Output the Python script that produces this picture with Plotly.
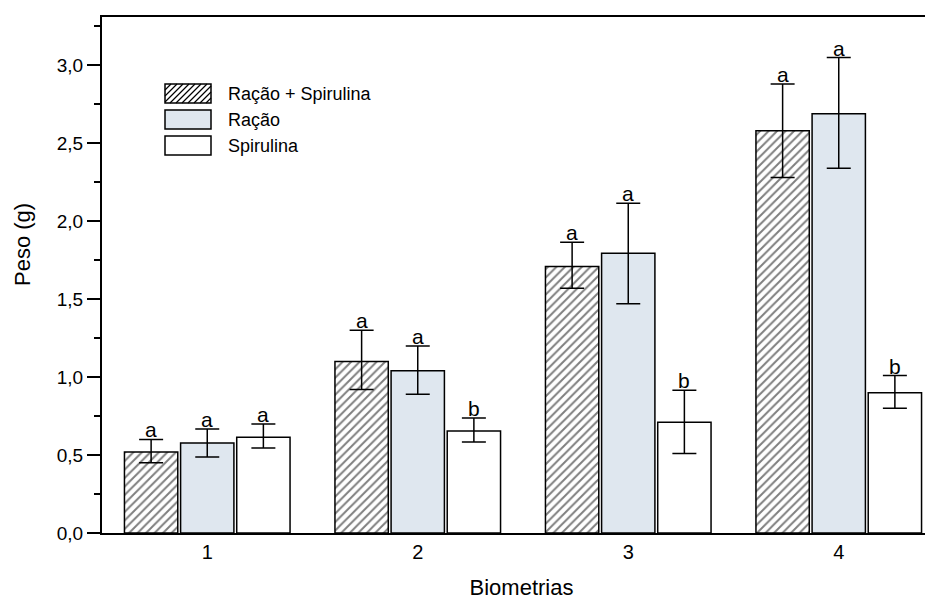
import plotly.graph_objects as go

# ---- data ----
categories = [1, 2, 3, 4]
tick_labels = ["1", "2", "3", "4"]
series_names = ["Ração + Spirulina", "Ração", "Spirulina"]

racao_spirulina = [0.52, 1.10, 1.71, 2.58]
racao_spirulina_up = [0.60, 1.30, 1.865, 2.88]
racao_spirulina_low = [0.45, 0.92, 1.57, 2.28]

racao = [0.577, 1.04, 1.795, 2.69]
racao_up = [0.667, 1.20, 2.115, 3.05]
racao_low = [0.487, 0.89, 1.47, 2.34]

spirulina = [0.615, 0.655, 0.71, 0.90]
spirulina_up = [0.70, 0.737, 0.915, 1.01]
spirulina_low = [0.545, 0.583, 0.51, 0.80]

letters_rs = ["a", "a", "a", "a"]
letters_r = ["a", "a", "a", "a"]
letters_s = ["a", "b", "b", "b"]

y_ticks = [0.0, 0.5, 1.0, 1.5, 2.0, 2.5, 3.0]
group_separators = [1.5, 2.5, 3.5]

# ---- layout geometry (page has an 8px body margin) ----
OFF = 8
W, H = 933, 602
ML, MT = 102 - OFF, 17 - OFF
MB = (H + OFF) - 533
MR = 0
PW, PH = W - ML - MR, H - MT - MB
XR = [0.5, 0.5 + PW / 210.5]
YR = [0.0, 3.31]
BARGAP, GROUPGAP = 0.2, 0.05
slot = (1 - BARGAP) / 3

FONT = "Liberation Sans, Arial, sans-serif"

means = [racao_spirulina, racao, spirulina]
ups = [racao_spirulina_up, racao_up, spirulina_up]
lows = [racao_spirulina_low, racao_low, spirulina_low]
letters = [letters_rs, letters_r, letters_s]

fills = ["white", "#dfe7ef", "white"]
patterns = [dict(shape="/", fgcolor="#000000", bgcolor="white", size=6, solidity=0.33),
            dict(shape=""), dict(shape="")]

fig = go.Figure()
for i in range(3):
    fig.add_trace(go.Bar(
        x=categories, y=means[i], name=series_names[i],
        marker=dict(color=fills[i], line=dict(color="black", width=1.5),
                    pattern=patterns[i]),
        error_y=dict(type="data", symmetric=False,
                     array=[u - m for u, m in zip(ups[i], means[i])],
                     arrayminus=[m - l for m, l in zip(means[i], lows[i])],
                     color="black", thickness=1.5, width=12),
        showlegend=False,
    ))

annotations = []
for i in range(3):
    off = (i - 1) * slot
    for c, u, t in zip(categories, ups[i], letters[i]):
        annotations.append(dict(x=c + off, y=u, text=t, showarrow=False,
                                xanchor="center", yanchor="bottom", yshift=-4,
                                font=dict(family=FONT, size=21, color="black")))


# ---- custom legend (paper coordinates from reference pixels) ----
def px(xp):
    return (xp - OFF - ML) / PW


def py(yp):
    return (MT + PH - (yp - OFF)) / PH


shapes = []
sw_l, sw_r, sw_h = 165, 211, 19
row_tops = [84, 110, 136]
for i, top in enumerate(row_tops):
    bot = top + sw_h
    shapes.append(dict(type="rect", xref="paper", yref="paper",
                       x0=px(sw_l), x1=px(sw_r), y0=py(bot), y1=py(top),
                       fillcolor=fills[i], line=dict(color="black", width=1.5),
                       layer="above"))
    if i == 0:
        segs = []
        step = 6
        k = sw_l - sw_h
        while k < sw_r:
            x0, y0 = k, bot
            x1, y1 = k + sw_h, top
            if x0 < sw_l:
                y0 = bot - (sw_l - x0)
                x0 = sw_l
            if x1 > sw_r:
                y1 = top + (x1 - sw_r)
                x1 = sw_r
            if x1 > x0:
                segs.append(f"M{px(x0)},{py(y0)} L{px(x1)},{py(y1)}")
            k += step
        shapes.append(dict(type="path", xref="paper", yref="paper",
                           path=" ".join(segs),
                           line=dict(color="#000000", width=1.2), layer="above"))
    annotations.append(dict(xref="paper", yref="paper", x=px(226), y=py(top + sw_h / 2),
                            text=series_names[i], showarrow=False,
                            xanchor="left", yanchor="middle",
                            font=dict(family=FONT, size=18, color="black")))

# y-axis title placed at its reference position
annotations.append(dict(xref="paper", yref="paper", x=px(22), y=py(245),
                        text="Peso (g)", textangle=-90, showarrow=False,
                        xanchor="center", yanchor="middle",
                        font=dict(family=FONT, size=22, color="black")))

fig.update_layout(
    width=W, height=H,
    margin=dict(l=ML, r=MR, t=MT, b=MB, autoexpand=False),
    paper_bgcolor="white", plot_bgcolor="white",
    barmode="group", bargap=BARGAP, bargroupgap=GROUPGAP,
    separators=",.",
    font=dict(family=FONT, color="black"),
    annotations=annotations, shapes=shapes,
    xaxis=dict(range=XR, tickvals=categories, ticktext=tick_labels, ticks="",
               showline=True, linecolor="black", linewidth=2, mirror=True,
               showgrid=False, zeroline=False,
               tickfont=dict(family=FONT, size=20, color="black"),
               title=dict(text="Biometrias", standoff=18,
                          font=dict(family=FONT, size=22, color="black"))),
    xaxis2=dict(overlaying="x", anchor="y", side="bottom", range=XR,
                tickvals=group_separators, ticks="outside", ticklen=6, tickwidth=2,
                tickcolor="black", showticklabels=False, showline=False,
                showgrid=False, zeroline=False),
    xaxis3=dict(overlaying="x", anchor="y", side="bottom", range=XR,
                tickvals=group_separators, ticks="inside", ticklen=6, tickwidth=2,
                tickcolor="black", showticklabels=False, showline=False,
                showgrid=False, zeroline=False),
    yaxis=dict(range=YR, tickvals=y_ticks, tickformat=".1f", ticks="outside",
               ticklen=13, tickwidth=1.5, tickcolor="black",
               minor=dict(dtick=0.25, ticks="outside", ticklen=6, tickwidth=1.5,
                          tickcolor="black"),
               showline=True, linecolor="black", linewidth=2,
               showgrid=False, zeroline=False,
               tickfont=dict(family=FONT, size=19, color="black")),
)

fig.write_html("out.html")
